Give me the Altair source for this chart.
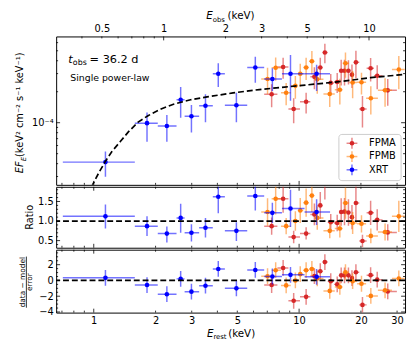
import altair as alt
import pandas as pd

# ---------------- data ----------------
inst_names = ["FPMA", "FPMB", "XRT"]
inst_colors = ["#d62728", "#ff7f0e", "#0000ff"]

# FPMA
fpma_E = [7.35, 8.36, 9.41, 10.82, 11.87, 12.68, 13.35, 14.26, 15.33, 16.03, 16.64, 17.39, 18.09, 18.91, 20.35, 22.30, 24.01, 27.02]
fpma_edges = [6.76, 7.84, 8.87, 10.10, 11.34, 12.26, 13.01, 13.79, 14.79, 15.67, 16.33, 17.01, 17.74, 18.49, 19.63, 21.32, 23.15, 25.49, 29.93]
fpma_F = [1.889e-4, 3.475e-4, 1.36e-4, 1.596e-4, 2.79e-4, 3.44e-4, 4.81e-4, 2.436e-4, 2.49e-4, 3.20e-4, 3.20e-4, 3.20e-4, 2.93e-4, 3.86e-4, 1.36e-4, 3.385e-4, 2.864e-4, 2.063e-4]
fpma_Flo = [1.41e-4, 2.67e-4, 0.99e-4, 1.23e-4, 2.12e-4, 2.61e-4, 3.78e-4, 1.90e-4, 1.94e-4, 2.30e-4, 2.30e-4, 2.35e-4, 2.18e-4, 2.70e-4, 0.90e-4, 2.52e-4, 2.11e-4, 1.46e-4]
fpma_Fhi = [2.37e-4, 4.28e-4, 1.73e-4, 1.96e-4, 3.46e-4, 4.27e-4, 5.84e-4, 2.98e-4, 3.04e-4, 4.10e-4, 4.10e-4, 4.05e-4, 3.68e-4, 5.00e-4, 1.82e-4, 4.25e-4, 3.61e-4, 2.66e-4]
fpma_R = [0.87, 1.57, 0.59, 0.68, 1.17, 1.40, 1.98, 0.97, 0.95, 1.23, 1.24, 1.22, 1.10, 1.46, 0.49, 1.21, 1.03, 0.71]
fpma_Rlo = [0.65, 1.21, 0.43, 0.53, 0.89, 1.06, 1.55, 0.76, 0.74, 0.88, 0.89, 0.88, 0.79, 1.02, 0.33, 0.90, 0.76, 0.50]
fpma_Rhi = [1.09, 1.93, 0.75, 0.84, 1.45, 1.74, 2.41, 1.18, 1.16, 1.58, 1.59, 1.56, 1.41, 1.90, 0.65, 1.52, 1.30, 0.92]
fpma_S = [-0.58, 1.58, -2.58, -2.08, 0.55, 1.17, 2.33, -0.1, -0.5, 0.65, 0.65, 0.65, 0.3, 1.04, -3.1, 0.67, 0.1, -1.4]

# FPMB
fpmb_E = [7.02, 7.69, 8.65, 9.59, 10.13, 10.82, 11.54, 12.26, 14.10, 15.79, 16.82, 18.23, 20.13, 22.35, 26.22, 30.59]
fpmb_edges = [6.54, 7.35, 8.16, 9.11, 9.86, 10.47, 11.17, 11.89, 13.14, 14.92, 16.29, 17.51, 19.16, 21.20, 24.20, 28.32, 32.69]
fpmb_F = [2.66e-4, 3.42e-4, 1.956e-4, 2.28e-4, 2.99e-4, 3.44e-4, 3.96e-4, 2.64e-4, 1.90e-4, 2.09e-4, 3.78e-4, 2.457e-4, 2.47e-4, 1.73e-4, 2.067e-4, 3.29e-4]
fpmb_Flo = [1.90e-4, 2.55e-4, 1.48e-4, 1.71e-4, 2.24e-4, 2.60e-4, 2.95e-4, 1.91e-4, 1.42e-4, 1.50e-4, 2.74e-4, 1.73e-4, 1.88e-4, 1.20e-4, 1.43e-4, 2.12e-4]
fpmb_Fhi = [3.42e-4, 4.29e-4, 2.43e-4, 2.85e-4, 3.74e-4, 4.28e-4, 4.97e-4, 3.37e-4, 2.38e-4, 2.68e-4, 4.82e-4, 3.18e-4, 3.06e-4, 2.26e-4, 2.70e-4, 4.46e-4]
fpmb_R = [1.23, 1.57, 0.87, 1.00, 1.27, 1.47, 1.65, 1.08, 0.75, 0.81, 1.46, 0.95, 0.93, 0.62, 0.72, 1.12]
fpmb_Rlo = [0.88, 1.17, 0.66, 0.75, 0.95, 1.11, 1.23, 0.78, 0.56, 0.58, 1.06, 0.67, 0.71, 0.43, 0.50, 0.72]
fpmb_Rhi = [1.58, 1.97, 1.08, 1.25, 1.59, 1.83, 2.07, 1.38, 0.94, 1.04, 1.86, 1.23, 1.15, 0.81, 0.94, 1.52]
fpmb_S = [0.54, 1.3, -0.63, 0.0, 0.8, 1.3, 1.46, 0.25, -1.33, -0.83, 1.04, -0.1, -0.42, -1.96, -1.25, 0.25]

# XRT
xrt_E = [1.14, 1.817, 2.27, 2.65, 2.99, 3.50, 4.04, 4.95, 6.12, 7.41, 9.08, 12.17]
xrt_edges = [0.707, 1.585, 2.05, 2.53, 2.77, 3.26, 3.80, 4.35, 5.59, 6.76, 8.25, 10.63, 14.15]
xrt_F = [4.14e-5, 9.9e-5, 9.29e-5, 1.67e-4, 1.156e-4, 1.46e-4, 2.99e-4, 1.48e-4, 3.44e-4, 2.66e-4, 2.99e-4, 2.99e-4]
xrt_Flo = [2.99e-5, 6.53e-5, 6.53e-5, 1.12e-4, 8.03e-5, 1.01e-4, 2.22e-4, 1.01e-4, 2.44e-4, 2.03e-4, 1.63e-4, 2.03e-4]
xrt_Fhi = [5.25e-5, 1.26e-4, 1.19e-4, 2.22e-4, 1.49e-4, 1.89e-4, 3.78e-4, 1.96e-4, 4.38e-4, 3.39e-4, 4.54e-4, 3.65e-4]
xrt_R = [1.12, 0.87, 0.68, 1.08, 0.70, 0.83, 1.62, 0.75, 1.64, 1.21, 1.32, 1.23]
xrt_Rlo = [0.81, 0.62, 0.45, 0.70, 0.48, 0.58, 1.20, 0.49, 1.27, 0.95, 0.85, 0.90]
xrt_Rhi = [1.42, 1.12, 0.86, 1.44, 0.92, 1.08, 1.95, 0.97, 2.00, 1.47, 1.80, 1.56]
xrt_S = [0.33, -0.58, -1.75, 0.2, -1.42, -0.67, 1.46, -1.0, 1.33, 0.5, 0.71, 0.46]

# model curve (single power-law)
model_E = [0.976, 0.991, 1.059, 1.139, 1.226, 1.344, 1.474, 1.645, 1.837, 2.127, 2.463, 2.96, 3.62, 4.77, 6.40, 8.5, 10.7, 15.0, 22.3, 32.8]
model_F = [2.38e-5, 2.53e-5, 3.27e-5, 4.21e-5, 5.25e-5, 6.53e-5, 8.14e-5, 1.013e-4, 1.17e-4, 1.36e-4, 1.52e-4, 1.67e-4, 1.79e-4, 1.95e-4, 2.10e-4, 2.22e-4, 2.32e-4, 2.48e-4, 2.74e-4, 2.95e-4]

# axes / ticks
Z1 = 2.19  # 1 + z : E_rest = (1+z) E_obs
x_labels = [1, 2, 3, 5, 10, 20, 30]
x_major = [1, 10]
x_minor = [0.7, 0.8, 0.9, 2, 3, 4, 5, 6, 7, 8, 9, 20, 30]
obs_labels = [0.5, 1, 2, 3, 5, 10]
obs_major = [1, 10]
obs_minor = [0.4, 0.5, 0.6, 0.7, 0.8, 0.9, 2, 3, 4, 5, 6, 7, 8, 9]
f_major = [1e-4]
f_minor = [3e-5, 4e-5, 5e-5, 6e-5, 7e-5, 8e-5, 9e-5, 2e-4, 3e-4, 4e-4, 5e-4, 6e-4]
r_major = [0.5, 1.0, 1.5]
r_minor = [0.4, 0.6, 0.7, 0.8, 0.9, 1.1, 1.2, 1.3, 1.4, 1.6, 1.7, 1.8]
s_major = [-4, -2, 0, 2]
s_minor = [-3.5, -3, -2.5, -1.5, -1, -0.5, 0.5, 1, 1.5, 2.5, 3, 3.5]

# ---------------- build tables ----------------
def table(name, E, edges, F, Flo, Fhi, R, Rlo, Rhi, S):
    return pd.DataFrame({
        "inst": name, "E": E, "Elo": edges[:-1], "Ehi": edges[1:],
        "F": F, "Flo": Flo, "Fhi": Fhi, "R": R, "Rlo": Rlo, "Rhi": Rhi,
        "S": S, "Slo": [s - 1 for s in S], "Shi": [s + 1 for s in S]})

obs = {
    "FPMA": table("FPMA", fpma_E, fpma_edges, fpma_F, fpma_Flo, fpma_Fhi, fpma_R, fpma_Rlo, fpma_Rhi, fpma_S),
    "FPMB": table("FPMB", fpmb_E, fpmb_edges, fpmb_F, fpmb_Flo, fpmb_Fhi, fpmb_R, fpmb_Rlo, fpmb_Rhi, fpmb_S),
    "XRT": table("XRT", xrt_E, xrt_edges, xrt_F, xrt_Flo, xrt_Fhi, xrt_R, xrt_Rlo, xrt_Rhi, xrt_S),
}
model = pd.DataFrame({"E": model_E, "F": model_F})

# ---------------- layout constants ----------------
W, H1, H2, H3 = 355, 151, 62, 64
XDOM = [0.656, 32.8]
OBSDOM = [XDOM[0] / Z1, XDOM[1] / Z1]
FDOM = [2.49e-5, 6.89e-4]
RDOM = [0.318, 1.875]
SDOM = [-4.08, 3.9]
FONT = "DejaVu Sans"
MAJ, MIN = 4, 2
PT = 22
dummy = pd.DataFrame({"a": [0]})


def xsc():
    return alt.Scale(type="log", domain=XDOM, nice=False)


def osc():
    return alt.Scale(type="log", domain=OBSDOM, nice=False)


def fsc():
    return alt.Scale(type="log", domain=FDOM, nice=False)


def rsc():
    return alt.Scale(type="linear", domain=RDOM, nice=False, zero=False)


def ssc():
    return alt.Scale(type="linear", domain=SDOM, nice=False, zero=False)


def data_layers(yc, ylo, yhi, ysf, yax, xax):
    out = []
    for name, col in zip(inst_names, inst_colors):
        base = alt.Chart(obs[name])
        out.append(base.mark_rule(strokeWidth=1.5, opacity=0.55, clip=True, color=col).encode(
            x=alt.X("Elo:Q", scale=xsc(), axis=xax), x2="Ehi:Q",
            y=alt.Y(f"{yc}:Q", scale=ysf(), axis=yax)))
        out.append(base.mark_rule(strokeWidth=1.5, opacity=0.55, clip=True, color=col).encode(
            x=alt.X("E:Q", scale=xsc(), axis=xax),
            y=alt.Y(f"{ylo}:Q", scale=ysf(), axis=yax), y2=f"{yhi}:Q"))
        out.append(base.mark_circle(size=PT, opacity=1, clip=True, color=col).encode(
            x=alt.X("E:Q", scale=xsc(), axis=xax),
            y=alt.Y(f"{yc}:Q", scale=ysf(), axis=yax)))
    return out


def xticks(H, sides, sf, xax, major, minor):
    out = []
    for vals, L in ((major, MAJ), (minor, MIN)):
        df = pd.DataFrame({"v": vals})
        for s in sides:
            y0, y1 = (H, H - L) if s == "bottom" else (0, L)
            out.append(alt.Chart(df).mark_rule(color="black", strokeWidth=0.8).encode(
                x=alt.X("v:Q", scale=sf(), axis=xax), y=alt.value(y0), y2=alt.value(y1)))
    return out


def yticks(sf, yax, major, minor):
    out = []
    for vals, L in ((major, MAJ), (minor, MIN)):
        df = pd.DataFrame({"v": vals})
        for x0, x1 in ((0, L), (W, W - L)):
            out.append(alt.Chart(df).mark_rule(color="black", strokeWidth=0.8).encode(
                y=alt.Y("v:Q", scale=sf(), axis=yax), x=alt.value(x0), x2=alt.value(x1)))
    return out


def txt(s, x, y, size, angle=0, align="left", baseline="alphabetic", style="normal", color="black"):
    return alt.Chart(dummy).mark_text(
        text=s, font=FONT, fontSize=size, angle=angle, align=align, baseline=baseline,
        fontStyle=style, color=color).encode(x=alt.value(x), y=alt.value(y))


# ---------------- top panel ----------------
yax_top = alt.Axis(values=f_major, labelExpr="'10⁻⁴'", title=None, labelPadding=3)
top_layers = []
top_layers += data_layers("F", "Flo", "Fhi", fsc, yax_top, None)
top_layers.append(alt.Chart(model).mark_line(color="black", strokeDash=[6, 3], strokeWidth=1.7, clip=True).encode(
    x=alt.X("E:Q", scale=xsc(), axis=None), y=alt.Y("F:Q", scale=fsc(), axis=yax_top)))
top_layers += xticks(H1, ["bottom"], xsc, None, x_major, x_minor)
top_layers += xticks(H1, ["top"], osc, None, obs_major, obs_minor)
top_layers.append(alt.Chart(pd.DataFrame({"v": obs_labels})).mark_point(opacity=0).encode(
    x=alt.X("v:Q", scale=osc(), axis=alt.Axis(orient="top", values=obs_labels, format="~g",
                                              title=None, labelPadding=3))))
top_layers += yticks(fsc, yax_top, f_major, f_minor)
# annotations
top_layers += [
    txt("t", 12.4, 26.7, 11.5, style="italic"),
    txt("obs", 17.0, 29.5, 8),
    txt("= 36.2 d", 34.0, 26.7, 11.5),
    txt("Single power-law", 14.4, 45.7, 9.5),
    # y title: EF_E (keV^2 cm^-2 s^-1 keV^-1)
    txt("EF", -33.5, 139.2, 10, angle=270, style="italic"),
    txt("E", -31.0, 127.1, 7, angle=270, style="italic"),
    txt(" (keV² cm⁻² s⁻¹ keV⁻¹)", -33.5, 122.7, 10, angle=270),
    # top x title: E_obs (keV)
    txt("E", 152.7, -17.6, 10.5, style="italic"),
    txt("obs", 159.3, -15.2, 7),
    txt("(keV)", 174.4, -17.6, 10.5),
]
# legend
top_layers.append(alt.Chart(dummy).mark_rect(fill="white", fillOpacity=0.8, stroke="#cccccc",
                                             strokeWidth=1, cornerRadius=3).encode(
    x=alt.value(287.7), x2=alt.value(351), y=alt.value(99.7), y2=alt.value(146.7)))
for name, col, yy in zip(inst_names, inst_colors, [108.7, 122.2, 135.7]):
    top_layers.append(alt.Chart(dummy).mark_rule(color=col, opacity=0.55, strokeWidth=1.5).encode(
        x=alt.value(295.5), x2=alt.value(306.5), y=alt.value(yy)))
    top_layers.append(alt.Chart(dummy).mark_rule(color=col, opacity=0.55, strokeWidth=1.5).encode(
        x=alt.value(301), y=alt.value(yy - 5.5), y2=alt.value(yy + 5.5)))
    top_layers.append(alt.Chart(dummy).mark_circle(color=col, size=PT, opacity=1).encode(
        x=alt.value(301), y=alt.value(yy)))
    top_layers.append(txt(name, 318.4, yy, 10, baseline="middle"))

top = alt.layer(*top_layers).resolve_scale(x="independent").properties(width=W, height=H1)

# ---------------- ratio panel ----------------
yax_mid = alt.Axis(values=r_major, format=".1f", title=None, labelPadding=3)
xax_mid = alt.Axis(labels=False, title=None, values=x_labels)
mid_layers = []
mid_layers += data_layers("R", "Rlo", "Rhi", rsc, yax_mid, xax_mid)
mid_layers.append(alt.Chart(pd.DataFrame({"v": [1.0]})).mark_rule(
    color="black", strokeDash=[6, 3], strokeWidth=1.8).encode(y=alt.Y("v:Q", scale=rsc(), axis=yax_mid)))
mid_layers += xticks(H2, ["top", "bottom"], xsc, xax_mid, x_major, x_minor)
mid_layers += yticks(rsc, yax_mid, r_major, r_minor)
mid_layers.append(txt("Ratio", -23.5, 31, 10, angle=270, align="center"))
mid = alt.layer(*mid_layers).properties(width=W, height=H2)

# ---------------- residual panel ----------------
yax_bot = alt.Axis(values=s_major, format="d", title=None, labelPadding=3)
xax_bot = alt.Axis(values=x_labels, format="~g", title=None, labelPadding=3)
bot_layers = []
bot_layers += data_layers("S", "Slo", "Shi", ssc, yax_bot, xax_bot)
bot_layers.append(alt.Chart(pd.DataFrame({"v": [0.0]})).mark_rule(
    color="black", strokeDash=[6, 3], strokeWidth=1.8).encode(y=alt.Y("v:Q", scale=ssc(), axis=yax_bot)))
bot_layers += xticks(H3, ["top", "bottom"], xsc, xax_bot, x_major, x_minor)
bot_layers += yticks(ssc, yax_bot, s_major, s_minor)
bot_layers += [
    txt("data − model", -32.0, 33, 7.5, angle=270, align="center"),
    txt("error", -25.0, 33, 7.5, angle=270, align="center"),
    txt("E", 153.4, 88.7, 10.5, style="italic"),
    txt("rest", 160.0, 91.0, 7),
    txt("(keV)", 175.0, 88.7, 10.5),
]
bot_layers.append(alt.Chart(dummy).mark_rule(color="black", strokeWidth=0.8).encode(
    x=alt.value(-30.3), y=alt.value(33 - 26), y2=alt.value(33 + 26)))
bot = alt.layer(*bot_layers).properties(width=W, height=H3)

chart = alt.vconcat(top, mid, bot, spacing=0).properties(
    padding={"left": 6, "top": -1, "right": 0, "bottom": 0}
).configure_view(stroke="black", strokeWidth=1).configure_axis(
    grid=False, ticks=False, domain=False, labelFont=FONT, labelFontSize=10, labelColor="black"
)

chart.save("out.html", embed_options={"renderer": "svg", "actions": False})
